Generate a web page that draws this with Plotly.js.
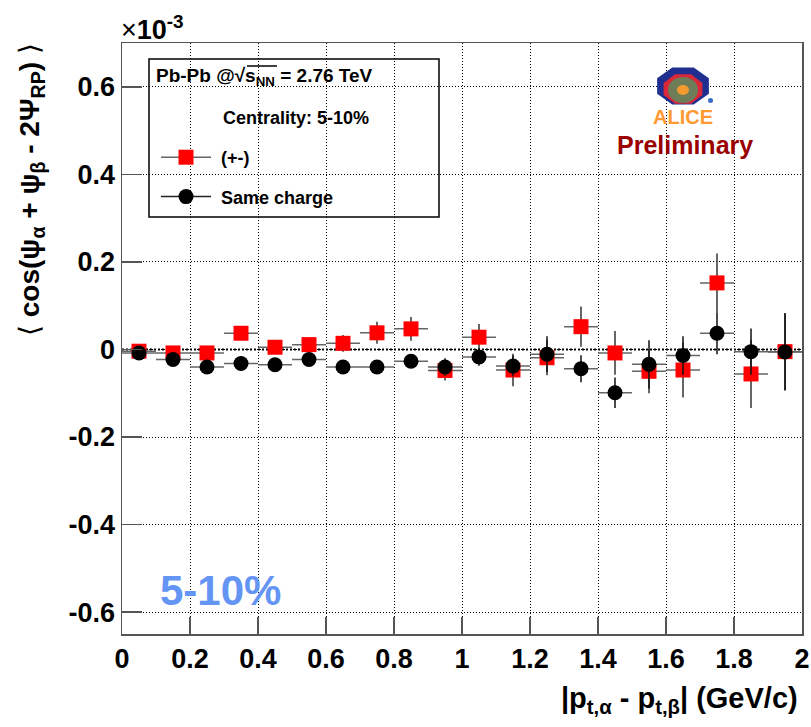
<!DOCTYPE html>
<html>
<head>
<meta charset="utf-8">
<script src="https://cdn.plot.ly/plotly-3.0.1.min.js"></script>
<style>html,body{margin:0;padding:0;background:#fff;}#chart{width:811px;height:727px;}</style>
</head>
<body>
<div id="chart"></div>
<script>
// ---- data (values in units of 1e-3) ----
const ptDiff = [0.05,0.15,0.25,0.35,0.45,0.55,0.65,0.75,0.85,0.95,1.05,1.15,1.25,1.35,1.45,1.55,1.65,1.75,1.85,1.95];
const oppCharge = [-0.004,-0.008,-0.008,0.037,0.005,0.011,0.014,0.038,0.047,-0.048,0.028,-0.047,-0.019,0.052,-0.008,-0.050,-0.047,0.152,-0.056,-0.005];
const oppChargeErr = [0.010,0.010,0.012,0.012,0.014,0.016,0.019,0.025,0.027,0.023,0.030,0.037,0.040,0.046,0.050,0.050,0.063,0.067,0.078,0.088];
const sameCharge = [-0.008,-0.023,-0.040,-0.032,-0.035,-0.023,-0.040,-0.040,-0.027,-0.040,-0.017,-0.038,-0.011,-0.044,-0.099,-0.034,-0.014,0.037,-0.005,-0.006];
const sameChargeErr = [0.007,0.008,0.008,0.009,0.010,0.011,0.012,0.013,0.015,0.020,0.020,0.024,0.041,0.031,0.035,0.055,0.044,0.048,0.053,0.088];
const binHalfWidth = 0.05;
const yTickVals = [-0.6,-0.4,-0.2,0,0.2,0.4,0.6];
const yTickText = ['-0.6','-0.4','-0.2','0','0.2','0.4','0.6'];
const xTickVals = [0,0.2,0.4,0.6,0.8,1,1.2,1.4,1.6,1.8,2];
const xTickText = ['0','0.2','0.4','0.6','0.8','1','1.2','1.4','1.6','1.8','2'];
const seriesNames = ['(+-)','Same charge'];

// ---- layout helpers (pixel -> paper) ----
const L=122, R=802, T=43, B=634;
const px = x => (x-L)/(R-L);
const py = y => (B-y)/(B-T);
const FONT = 'Liberation Sans, Arial, Helvetica, sans-serif';

function octagon(cx, cy, rx, ry){
  let d='';
  for(let k=0;k<8;k++){
    const a=(22.5+45*k)*Math.PI/180;
    const x=px(cx+rx*Math.cos(a)), y=py(cy+ry*Math.sin(a));
    d += (k===0?'M':'L')+x+','+y+' ';
  }
  return d+'Z';
}

const errX = {type:'constant', value:binHalfWidth, width:0, thickness:1.5, color:'#666'};

const traces = [
  {x:ptDiff, y:oppCharge, type:'scatter', mode:'markers', showlegend:false,
   marker:{symbol:'square', size:15, color:'#ff0000'},
   error_y:{type:'data', array:oppChargeErr, visible:true, width:0, thickness:1.5, color:'#333'},
   error_x:errX},
  {x:ptDiff, y:sameCharge, type:'scatter', mode:'markers', showlegend:false,
   marker:{symbol:'circle', size:15, color:'#000000'},
   error_y:{type:'data', array:sameChargeErr, visible:true, width:0, thickness:1.5, color:'#111'},
   error_x:errX},
  {x:[null], y:[null], type:'scatter', mode:'lines+markers', name:'\u00a0'+seriesNames[0], legendgroup:'a',
   marker:{symbol:'square', size:15, color:'#ff0000'}, line:{color:'#666', width:1.5}},
  {x:[null], y:[null], type:'scatter', mode:'lines+markers', name:'\u00a0'+seriesNames[1], legendgroup:'b',
   marker:{symbol:'circle', size:15, color:'#000000'}, line:{color:'#222', width:1.5}}
];

const axisCommon = {
  showline:true, linecolor:'#555', linewidth:1.5, mirror:true,
  ticks:'inside', tickcolor:'#555', tickwidth:1.5,
  showgrid:true, gridcolor:'#000', gridwidth:1, griddash:'1px,2px',
  zeroline:false,
  tickfont:{family:FONT, size:27, color:'#000', weight:'bold'}
};

const layout = {
  width:811, height:727,
  margin:{l:L, r:811-R, t:T, b:727-B, pad:0},
  paper_bgcolor:'#fff', plot_bgcolor:'#fff',
  font:{family:FONT, color:'#000'},
  xaxis:Object.assign({}, axisCommon, {range:[0,2], tickvals:xTickVals, ticktext:xTickText, ticklen:17}),
  yaxis:Object.assign({}, axisCommon, {range:[-0.65,0.7], tickvals:yTickVals, ticktext:yTickText, ticklen:20}),
  showlegend:true,
  legend:{x:px(156), y:py(139), xanchor:'left', yanchor:'top', bgcolor:'rgba(0,0,0,0)', borderwidth:0,
          font:{family:FONT, size:18, color:'#000', weight:'bold'}, itemwidth:50, tracegroupgap:13, itemclick:false},
  shapes:[
    {type:'rect', xref:'paper', yref:'paper', x0:px(149), x1:px(439), y0:py(217), y1:py(59),
     fillcolor:'#fff', line:{color:'#000', width:1.5}, layer:'between'},
    {type:'line', xref:'paper', yref:'y', x0:0, x1:1, y0:0, y1:0, line:{color:'#000', width:2, dash:'2px,2px'}, layer:'between'},
    {type:'line', xref:'paper', yref:'paper', x0:px(247), x1:px(277), y0:py(66), y1:py(66), line:{color:'#000', width:1.5}},
    {type:'path', xref:'paper', yref:'paper', path:octagon(683,86,28,20), fillcolor:'#1f2e8f', line:{width:0}},
    {type:'path', xref:'paper', yref:'paper', path:octagon(683,89,21,16), fillcolor:'#d8283a', line:{width:0}},
    {type:'circle', xref:'paper', yref:'paper', x0:px(668), x1:px(698), y0:py(103), y1:py(77), fillcolor:'#6e7c58', line:{width:0}},
    {type:'circle', xref:'paper', yref:'paper', x0:px(677), x1:px(689), y0:py(95), y1:py(85), fillcolor:'#f29a2e', line:{width:0}},
    {type:'circle', xref:'paper', yref:'paper', x0:px(708), x1:px(713), y0:py(103), y1:py(98), fillcolor:'#3a6cc8', line:{width:0}}
  ],
  annotations:[
    {xref:'paper', yref:'paper', x:px(119), y:py(47), xanchor:'left', yanchor:'bottom', showarrow:false,
     text:'×<b>10<sup>-3</sup></b>', font:{family:FONT, size:27, color:'#000'}},
    {xref:'paper', yref:'paper', x:px(32), y:py(190), xanchor:'center', yanchor:'middle', showarrow:false, textangle:-90,
     text:'⟨ <b>cos(ψ<sub>α</sub> + ψ<sub>β</sub> - 2Ψ<sub>RP</sub>)</b> ⟩', font:{family:FONT, size:28, color:'#000'}},
    {xref:'paper', yref:'paper', x:px(800), y:py(700), xanchor:'right', yanchor:'middle', showarrow:false,
     text:'<b>|p<sub>t,α</sub> - p<sub>t,β</sub>| (GeV/c)</b>', font:{family:FONT, size:29, color:'#000'}},
    {xref:'paper', yref:'paper', x:px(158), y:py(590), xanchor:'left', yanchor:'middle', showarrow:false,
     text:'<b>5-10%</b>', font:{family:FONT, size:42, color:'#6495f5'}},
    {xref:'paper', yref:'paper', x:px(154), y:py(77), xanchor:'left', yanchor:'middle', showarrow:false,
     text:'<b>Pb-Pb @√s<sub>NN</sub> = 2.76 TeV</b>', font:{family:FONT, size:19, color:'#000'}},
    {xref:'paper', yref:'paper', x:px(221), y:py(118), xanchor:'left', yanchor:'middle', showarrow:false,
     text:'<b>Centrality: 5-10%</b>', font:{family:FONT, size:18, color:'#000'}},
    {xref:'paper', yref:'paper', x:px(683), y:py(117), xanchor:'center', yanchor:'middle', showarrow:false,
     text:'<b>ALICE</b>', font:{family:FONT, size:20, color:'#ff9a33'}},
    {xref:'paper', yref:'paper', x:px(685), y:py(145), xanchor:'center', yanchor:'middle', showarrow:false,
     text:'<b>Preliminary</b>', font:{family:FONT, size:25, color:'#9a0000'}}
  ]
};

Plotly.newPlot('chart', traces, layout, {staticPlot:true, displayModeBar:false});
</script>
</body>
</html>
